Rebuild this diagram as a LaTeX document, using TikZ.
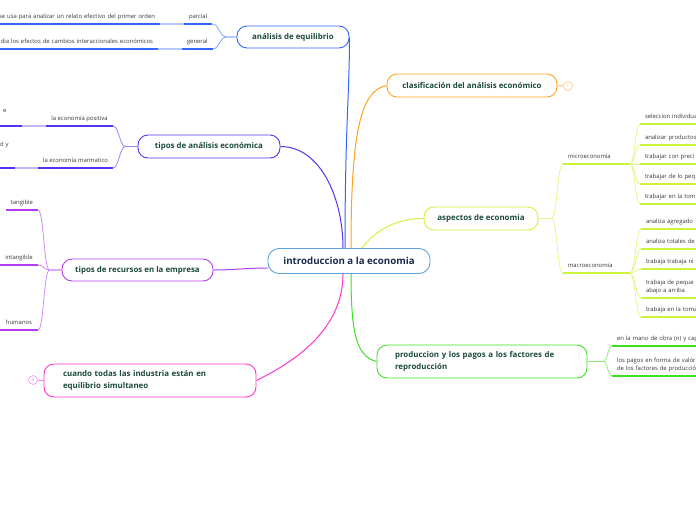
\documentclass[tikz,border=0pt]{standalone}
\usepackage{fontspec}
\setmainfont{Open Sans}
\usetikzlibrary{backgrounds}

\definecolor{rootline}{HTML}{5FA3DF}
\definecolor{roottext}{HTML}{1B2A4E}
\definecolor{topictext}{HTML}{1B4A3A}
\definecolor{leaftext}{HTML}{383838}
\definecolor{bEquil}{HTML}{3366FF}
\definecolor{bTipos}{HTML}{5533F0}
\definecolor{bRecur}{HTML}{B43CF0}
\definecolor{bCuando}{HTML}{FF33CC}
\definecolor{bClasif}{HTML}{FFA21F}
\definecolor{bAspec}{HTML}{CCF53A}
\definecolor{bProd}{HTML}{3EE023}

\tikzset{
  root/.style={draw=rootline, line width=0.9pt, rounded corners=11pt, fill=white,
    text=roottext, font=\bfseries\fontsize{9.7}{11}\selectfont,
    minimum width=162pt, minimum height=25pt, inner sep=0pt},
  topic/.style={draw=#1, line width=0.9pt, rounded corners=10pt, fill=white,
    text=topictext, font=\bfseries\fontsize{7.9}{12}\selectfont,
    minimum height=22pt, inner sep=0pt},
  counter/.style={circle, draw=#1!55, line width=0.6pt, fill=white, text=#1!70,
    minimum size=9pt, inner sep=0pt, font=\fontsize{4.5}{5}\selectfont},
  leaf/.style={text=leaftext, font=\fontsize{5.9}{8}\selectfont,
    inner xsep=5pt, inner ysep=3.5pt, outer sep=0pt,
    execute at end node={\strut},
    append after command={\pgfextra{\draw[uline=#1]
      (\tikzlastnode.south west) -- (\tikzlastnode.south east);}}},
  uline/.style={draw=#1, line width=1.5pt},
  link/.style={draw=#1, line width=1pt},
  sublink/.style={draw=#1!60, line width=0.8pt},
  bridge/.style={draw=#1!35, line width=1.5pt},
}

\begin{document}
\begin{tikzpicture}[x=1pt, y=-1pt]
\useasboundingbox (0,0) rectangle (696,520);
\clip (0,0) rectangle (696,520);

% central topic
\node[root] (intro) at (349,261) {introduccion a la economia};

% main topics
\node[topic=bEquil, minimum width=112pt] (equil) at (293,37) {análisis de equilibrio};
\node[topic=bTipos, minimum width=142pt, minimum height=23pt] (tiposan) at (209,146.5) {tipos de análisis económica};
\node[topic=bRecur, minimum width=151pt] (recur) at (137.5,270) {tipos de recursos en la empresa};
\node[topic=bCuando, minimum width=212pt, minimum height=33pt, text width=174pt, align=left] (simult) at (150,380.5)
  {cuando todas las industria están en\\equilibrio simultaneo};
\node[topic=bClasif, minimum width=170pt, minimum height=23pt] (clasif) at (472,85.5) {clasificación del análisis económico};
\node[topic=bAspec, minimum width=114pt, minimum height=23pt] (aspec) at (481,218.5) {aspectos de economia};
\node[topic=bProd, minimum width=210pt, minimum height=33pt, text width=174pt, align=left] (prod) at (482,361.5)
  {produccion y los pagos a los factores de\\reproducción};

% collapsed counters
\node[counter=bCuando] (n4) at (33,380) {4};
\node[counter=bClasif] (n1) at (568,86) {1};

% --- análisis de equilibrio ---
\node[leaf=bEquil, minimum width=28pt, anchor=south west] (parcial) at (184,24) {parcial};
\node[leaf=bEquil, minimum width=30pt, anchor=south west] (general) at (182,49) {general};
\node[leaf=bEquil, text width=200pt, align=right, anchor=south east] (sedet) at (160,24)
  {se usa para analizar un relato efectivo del primer orden};
\node[leaf=bEquil, text width=200pt, align=right, anchor=south east] (gendet) at (158,49)
  {dia los efectos de cambios interaccionales económicos};

% --- tipos de análisis ---
\node[leaf=bTipos, minimum width=67pt, anchor=south west] (positiva) at (46,126) {la economía positiva};
\node[leaf=bTipos, minimum width=75pt, anchor=south west] (marmat) at (38,168) {la economía marmatico};
\node[leaf=bTipos, text width=14pt, align=left, anchor=south east] (posdet) at (22,126) {e\\\mbox{}};
\node[leaf=bTipos, text width=10pt, align=left, anchor=south east] (marmdet) at (15,168) {d y\\\mbox{}\\\mbox{}};

% --- tipos de recursos ---
\node[leaf=bRecur, minimum width=32pt, anchor=south east] (tang) at (38,210) {tangible};
\node[leaf=bRecur, minimum width=38pt, anchor=south east] (intang) at (38,265) {intangible};
\node[leaf=bRecur, minimum width=38pt, anchor=south east] (human) at (38,330) {humanos};

% --- aspectos de economia ---
\node[leaf=bAspec, text width=57pt, align=left, anchor=south west] (micro) at (563,164) {microeconomia};
\node[leaf=bAspec, text width=57pt, align=left, anchor=south west] (macro) at (563,273) {macroeconomia};
\node[leaf=bAspec, text width=66pt, align=left, anchor=south west] (mic1) at (640,124) {seleccion individua};
\node[leaf=bAspec, text width=66pt, align=left, anchor=south west] (mic2) at (640,145) {analizar productos};
\node[leaf=bAspec, text width=66pt, align=left, anchor=south west] (mic3) at (640,164) {trabajar con preci};
\node[leaf=bAspec, text width=66pt, align=left, anchor=south west] (mic4) at (640,184) {trabajar de lo peq};
\node[leaf=bAspec, text width=66pt, align=left, anchor=south west] (mic5) at (640,204) {trabajar en la tom};
\node[leaf=bAspec, text width=66pt, align=left, anchor=south west] (mac1) at (641,229) {analiza agregado};
\node[leaf=bAspec, text width=66pt, align=left, anchor=south west] (mac2) at (641,249) {analiza totales de};
\node[leaf=bAspec, text width=66pt, align=left, anchor=south west] (mac3) at (641,269) {trabaja trabaja ni};
\node[leaf=bAspec, text width=66pt, align=left, anchor=south west] (mac4) at (641,298) {trabaja de peque\\abajo a arriba};
\node[leaf=bAspec, text width=66pt, align=left, anchor=south west] (mac5) at (641,317) {trabaja en la toma};

% --- produccion ---
\node[leaf=bProd, text width=100pt, align=left, anchor=south west] (mano) at (612,346) {en la mano de obra (n) y cap};
\node[leaf=bProd, text width=100pt, align=left, anchor=south west] (pagos) at (612,376)
  {los pagos en forma de valór\\de los factores de producció};

% connectors behind the boxes
\begin{scope}[on background layer]
  \draw[link=bEquil] ([xshift=-4pt]intro.north) .. controls +(0,-120) and +(0,60) .. (equil.east);
  \draw[link=bTipos] ([xshift=-6pt]intro.north) .. controls +(0,-50) and +(40,0) .. (tiposan.east);
  \draw[link=bRecur] ([yshift=-7pt]intro.west) .. controls +(-20,0) and +(20,0) .. (recur.east);
  \draw[link=bCuando] ([xshift=-6pt]intro.south) .. controls +(0,60) and +(30,-15) .. (simult.east);
  \draw[link=bClasif] ([xshift=2pt]intro.north) .. controls +(0,-120) and +(-25,5) .. (clasif.west);
  \draw[link=bAspec] ([xshift=13pt]intro.north) .. controls +(15,-20) and +(-25,0) .. (aspec.west);
  \draw[link=bProd] ([xshift=2pt]intro.south) .. controls +(0,60) and +(-20,-5) .. (prod.west);

  \draw[link=bCuando!60] (n4) -- (simult.west);
  \draw[link=bClasif!60] (clasif.east) -- (n1);

  \draw[sublink=bEquil] (equil.west) -- ++(-10,0) .. controls +(-7,0) and +(7,0) .. (parcial.south east);
  \draw[sublink=bEquil] (equil.west) -- ++(-10,0) .. controls +(-7,0) and +(7,0) .. (general.south east);
  \draw[bridge=bEquil] (sedet.south east) -- (parcial.south west);
  \draw[bridge=bEquil] (gendet.south east) -- (general.south west);

  \draw[sublink=bTipos] (tiposan.west) -- ++(-12,0) .. controls +(-6,0) and +(6,0) .. (positiva.south east);
  \draw[sublink=bTipos] (tiposan.west) -- ++(-12,0) .. controls +(-6,0) and +(6,0) .. (marmat.south east);
  \draw[bridge=bTipos] (posdet.south east) -- (positiva.south west);
  \draw[bridge=bTipos] (marmdet.south east) -- (marmat.south west);

  \draw[sublink=bRecur] (recur.west) -- ++(-12,0) .. controls +(-6,0) and +(6,0) .. (tang.south east);
  \draw[sublink=bRecur] (recur.west) -- ++(-12,0) .. controls +(-6,0) and +(6,0) .. (intang.south east);
  \draw[sublink=bRecur] (recur.west) -- ++(-12,0) .. controls +(-6,0) and +(6,0) .. (human.south east);

  \draw[sublink=bAspec] (aspec.east) -- ++(13,0) .. controls +(6,0) and +(-6,0) .. (micro.south west);
  \draw[sublink=bAspec] (aspec.east) -- ++(13,0) .. controls +(6,0) and +(-6,0) .. (macro.south west);
  \draw[sublink=bAspec] (micro.south east) .. controls +(5,0) and +(-5,0) .. (mic1.south west);
  \draw[sublink=bAspec] (micro.south east) .. controls +(5,0) and +(-5,0) .. (mic2.south west);
  \draw[sublink=bAspec] (micro.south east) .. controls +(5,0) and +(-5,0) .. (mic3.south west);
  \draw[sublink=bAspec] (micro.south east) .. controls +(5,0) and +(-5,0) .. (mic4.south west);
  \draw[sublink=bAspec] (micro.south east) .. controls +(5,0) and +(-5,0) .. (mic5.south west);
  \draw[sublink=bAspec] (macro.south east) .. controls +(5,0) and +(-5,0) .. (mac1.south west);
  \draw[sublink=bAspec] (macro.south east) .. controls +(5,0) and +(-5,0) .. (mac2.south west);
  \draw[sublink=bAspec] (macro.south east) .. controls +(5,0) and +(-5,0) .. (mac3.south west);
  \draw[sublink=bAspec] (macro.south east) .. controls +(5,0) and +(-5,0) .. (mac4.south west);
  \draw[sublink=bAspec] (macro.south east) .. controls +(5,0) and +(-5,0) .. (mac5.south west);

  \draw[sublink=bProd] (prod.east) -- ++(16,0) .. controls +(4,0) and +(-4,0) .. (mano.south west);
  \draw[sublink=bProd] (prod.east) -- ++(16,0) .. controls +(4,0) and +(-4,0) .. (pagos.south west);
\end{scope}
\end{tikzpicture}
\end{document}
